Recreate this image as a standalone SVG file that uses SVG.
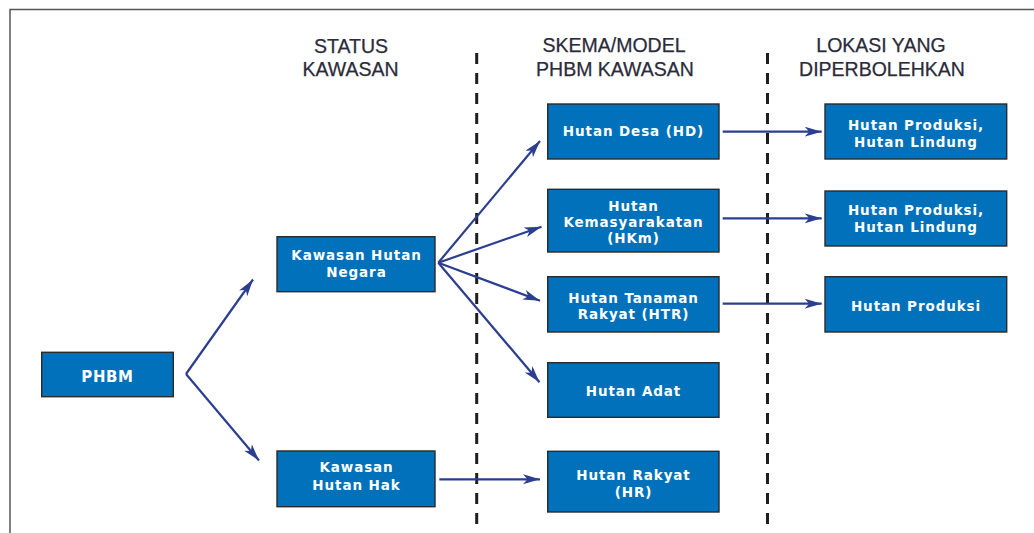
<svg xmlns="http://www.w3.org/2000/svg" width="1034" height="533" viewBox="0 0 1034 533">
<style>
.bg{fill:#ffffff}
.frame{fill:none;stroke:#555;stroke-width:1.5}
.hdr{font-family:"Liberation Sans",Arial,sans-serif;font-size:19.5px;fill:#2b2b3a;text-anchor:middle;stroke:#2b2b3a;stroke-width:0.25}
.box{fill:#0071ba;stroke:#2a2a2a;stroke-width:1.4}
.t{font-family:"DejaVu Sans",sans-serif;font-weight:bold;font-size:13.5px;fill:#ffffff;text-anchor:middle;letter-spacing:0.9px}
.big{font-size:15px;letter-spacing:0.6px}
.dash{stroke:#1e1e1e;stroke-width:3;stroke-dasharray:11 9;fill:none}
.con{stroke:#2b3e8f;stroke-width:2.2;fill:none}
</style>
<defs>
<marker id="ah" markerUnits="userSpaceOnUse" markerWidth="18" markerHeight="11" refX="17" refY="5" orient="auto">
<path d="M0,0 L17,5 L0,10 L4.5,5 z" fill="#2b3e8f"/>
</marker>
</defs>
<rect class="bg" x="0" y="0" width="1034" height="533"/>
<path class="frame" d="M10,533 L10,9.5 L1034,9.5"/>

<g id="headers">
<text class="hdr" x="351" y="52.5">STATUS</text>
<text class="hdr" x="350.5" y="76">KAWASAN</text>
<text class="hdr" x="614" y="52">SKEMA/MODEL</text>
<text class="hdr" x="615" y="75.5">PHBM KAWASAN</text>
<text class="hdr" x="881" y="52">LOKASI YANG</text>
<text class="hdr" x="882" y="75.5">DIPERBOLEHKAN</text>
</g>

<g id="dividers">
<line class="dash" x1="476.7" y1="53" x2="476.7" y2="533"/>
<line class="dash" x1="767.5" y1="53" x2="767.5" y2="533"/>
</g>

<g id="connectors">
<line class="con" x1="186" y1="374" x2="253" y2="279.5" marker-end="url(#ah)"/>
<line class="con" x1="186" y1="374" x2="259" y2="460.5" marker-end="url(#ah)"/>
<line class="con" x1="438.3" y1="262.7" x2="540" y2="141" marker-end="url(#ah)"/>
<line class="con" x1="438.3" y1="262.7" x2="541.5" y2="226.7" marker-end="url(#ah)"/>
<line class="con" x1="438.3" y1="262.7" x2="540" y2="300.7" marker-end="url(#ah)"/>
<line class="con" x1="438.3" y1="262.7" x2="539.5" y2="382.3" marker-end="url(#ah)"/>
<line class="con" x1="439.3" y1="479.3" x2="540" y2="479.3" marker-end="url(#ah)"/>
<line class="con" x1="722.7" y1="131.7" x2="821.7" y2="131.7" marker-end="url(#ah)"/>
<line class="con" x1="722.7" y1="218.3" x2="821.7" y2="218.3" marker-end="url(#ah)"/>
<line class="con" x1="722.7" y1="303.7" x2="821.7" y2="303.7" marker-end="url(#ah)"/>
</g>

<g id="phbm">
<rect class="box" x="41.7" y="352.3" width="131.6" height="44.4"/>
<text class="t big" x="107.5" y="382.3">PHBM</text>
</g>
<g id="kawasan-hutan-negara">
<rect class="box" x="277" y="236.7" width="158" height="55"/>
<text class="t" x="356.5" y="260">Kawasan Hutan</text>
<text class="t" x="356.5" y="277">Negara</text>
</g>
<g id="kawasan-hutan-hak">
<rect class="box" x="277" y="451" width="158" height="55.7"/>
<text class="t" x="356.5" y="471.5">Kawasan</text>
<text class="t" x="356.5" y="489.5">Hutan Hak</text>
</g>
<g id="hutan-desa">
<rect class="box" x="547.7" y="104" width="171.3" height="55"/>
<text class="t" x="633.5" y="136">Hutan Desa (HD)</text>
</g>
<g id="hutan-kemasyarakatan">
<rect class="box" x="547.7" y="189.3" width="171.3" height="62.7"/>
<text class="t" x="633.5" y="211.3">Hutan</text>
<text class="t" x="633.5" y="227.3">Kemasyarakatan</text>
<text class="t" x="633.5" y="243.3">(HKm)</text>
</g>
<g id="hutan-tanaman-rakyat">
<rect class="box" x="547.7" y="276.7" width="171.3" height="55.3"/>
<text class="t" x="633.5" y="302.5">Hutan Tanaman</text>
<text class="t" x="633.5" y="319">Rakyat (HTR)</text>
</g>
<g id="hutan-adat">
<rect class="box" x="547.7" y="362.7" width="171.3" height="54.6"/>
<text class="t" x="633.5" y="396">Hutan Adat</text>
</g>
<g id="hutan-rakyat">
<rect class="box" x="547.7" y="451.3" width="171.3" height="60.7"/>
<text class="t" x="633.5" y="480">Hutan Rakyat</text>
<text class="t" x="633.5" y="497">(HR)</text>
</g>
<g id="lokasi-1">
<rect class="box" x="825" y="104" width="181.7" height="55"/>
<text class="t" x="916" y="130">Hutan Produksi,</text>
<text class="t" x="916" y="147">Hutan Lindung</text>
</g>
<g id="lokasi-2">
<rect class="box" x="825" y="191" width="181.7" height="55"/>
<text class="t" x="916" y="215">Hutan Produksi,</text>
<text class="t" x="916" y="232">Hutan Lindung</text>
</g>
<g id="lokasi-3">
<rect class="box" x="825" y="276.7" width="181.7" height="55.3"/>
<text class="t" x="916" y="311">Hutan Produksi</text>
</g>
</svg>
